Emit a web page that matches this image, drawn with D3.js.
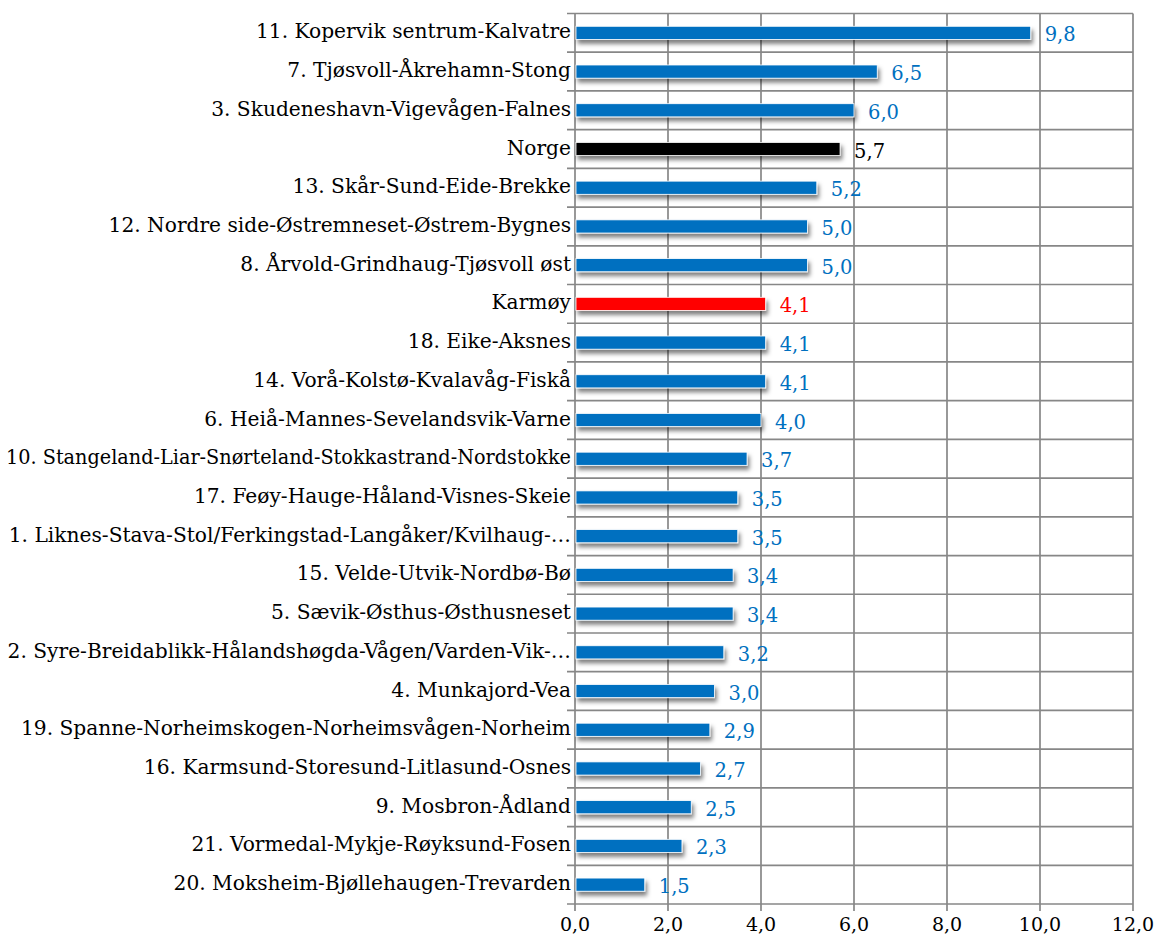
<!DOCTYPE html>
<html>
<head>
<meta charset="utf-8">
<script src="https://cdn.jsdelivr.net/npm/d3@7"></script>
<style>
  html, body { margin: 0; padding: 0; background: #fff; }
  svg { display: block; }
  text { font-family: "DejaVu Serif", "Liberation Serif", serif; }
</style>
</head>
<body>
<svg id="chart" width="1155" height="938"></svg>
<script>
// Areas, top to bottom, with values
const categories = [
  "11. Kopervik sentrum-Kalvatre",
  "7. Tjøsvoll-Åkrehamn-Stong",
  "3. Skudeneshavn-Vigevågen-Falnes",
  "Norge",
  "13. Skår-Sund-Eide-Brekke",
  "12. Nordre side-Østremneset-Østrem-Bygnes",
  "8. Årvold-Grindhaug-Tjøsvoll øst",
  "Karmøy",
  "18. Eike-Aksnes",
  "14. Vorå-Kolstø-Kvalavåg-Fiskå",
  "6. Heiå-Mannes-Sevelandsvik-Varne",
  "10. Stangeland-Liar-Snørteland-Stokkastrand-Nordstokke",
  "17. Feøy-Hauge-Håland-Visnes-Skeie",
  "1. Liknes-Stava-Stol/Ferkingstad-Langåker/Kvilhaug-…",
  "15. Velde-Utvik-Nordbø-Bø",
  "5. Sævik-Østhus-Østhusneset",
  "2. Syre-Breidablikk-Hålandshøgda-Vågen/Varden-Vik-…",
  "4. Munkajord-Vea",
  "19. Spanne-Norheimskogen-Norheimsvågen-Norheim",
  "16. Karmsund-Storesund-Litlasund-Osnes",
  "9. Mosbron-Ådland",
  "21. Vormedal-Mykje-Røyksund-Fosen",
  "20. Moksheim-Bjøllehaugen-Trevarden"
];
const values = [9.8, 6.5, 6.0, 5.7, 5.2, 5.0, 5.0, 4.1, 4.1, 4.1, 4.0, 3.7, 3.5, 3.5, 3.4, 3.4, 3.2, 3.0, 2.9, 2.7, 2.5, 2.3, 1.5];
const xTicks = [0, 2, 4, 6, 8, 10, 12];
// Highlighted rows: national and municipal reference
const highlight = { "Norge": "#000000", "Karmøy": "#ff0000" };
const baseColor = "#0070c0";

const data = categories.map((c, i) => ({ name: c, value: values[i] }));
const colorOf = d => highlight[d.name] || baseColor;
const fmt = v => d3.format(".1f")(v).replace(".", ",");

const svg = d3.select("#chart");
const plotLeft = 575, plotRight = 1133, plotTop = 13.5, plotBottom = 904;

const x = d3.scaleLinear().domain([0, 12]).range([plotLeft, plotRight]);
const y = d3.scaleBand().domain(categories).range([plotTop, plotBottom])
  .paddingInner(0.66).paddingOuter(0.33);

// Soft drop shadow under each bar
const defs = svg.append("defs");
const f = defs.append("filter").attr("id", "shadow")
  .attr("x", "-5%").attr("y", "-50%").attr("width", "115%").attr("height", "250%");
f.append("feDropShadow").attr("dx", 2).attr("dy", 4).attr("stdDeviation", 2)
  .attr("flood-color", "#000").attr("flood-opacity", 0.5);

const gridColor = "#878787";
const grid = svg.append("g");

// Vertical grid lines with small ticks below the plot
grid.selectAll("line.v").data(xTicks).join("line").attr("class", "v")
  .attr("x1", d => x(d)).attr("x2", d => x(d))
  .attr("y1", plotTop).attr("y2", plotBottom + 7)
  .attr("stroke", gridColor).attr("stroke-width", 1.7);

// Horizontal grid lines at category boundaries, with ticks to the left
const step = y.step();
const bounds = d3.range(categories.length + 1).map(i => plotTop + i * step);
grid.selectAll("line.h").data(bounds).join("line").attr("class", "h")
  .attr("x1", plotLeft - 8).attr("x2", plotRight)
  .attr("y1", d => d).attr("y2", d => d)
  .attr("stroke", gridColor).attr("stroke-width", 1.7);

// Bars
svg.append("g").selectAll("rect").data(data).join("rect")
  .attr("x", x(0) + 1)
  .attr("y", d => y(d.name))
  .attr("width", d => x(d.value) - x(0) - 1)
  .attr("height", y.bandwidth())
  .attr("fill", colorOf)
  .attr("stroke", "#ffffff").attr("stroke-width", 0.8)
  .attr("filter", "url(#shadow)");

// Value labels
svg.append("g").selectAll("text").data(data).join("text")
  .attr("x", d => x(d.value) + 14)
  .attr("y", d => y(d.name) + y.bandwidth() / 2 + 3)
  .attr("dominant-baseline", "middle")
  .attr("fill", colorOf)
  .attr("font-size", 19.5)
  .text(d => fmt(d.value));

// Category labels; long names are condensed to fit the left margin
const labelRight = plotLeft - 4, maxLabelWidth = labelRight - 6;
svg.append("g").selectAll("text").data(data).join("text")
  .attr("x", labelRight)
  .attr("y", d => y(d.name) + y.bandwidth() / 2)
  .attr("dominant-baseline", "middle")
  .attr("text-anchor", "end")
  .attr("fill", "#000")
  .attr("font-size", 20.2)
  .text(d => d.name)
  .each(function () {
    if (this.getComputedTextLength() > maxLabelWidth) {
      d3.select(this).attr("textLength", maxLabelWidth)
        .attr("lengthAdjust", "spacingAndGlyphs");
    }
  });

// X axis tick labels
svg.append("g").selectAll("text").data(xTicks).join("text")
  .attr("x", d => x(d))
  .attr("y", 926)
  .attr("dominant-baseline", "middle")
  .attr("text-anchor", "middle")
  .attr("fill", "#000")
  .attr("font-size", 19)
  .text(d => fmt(d));
</script>
</body>
</html>
